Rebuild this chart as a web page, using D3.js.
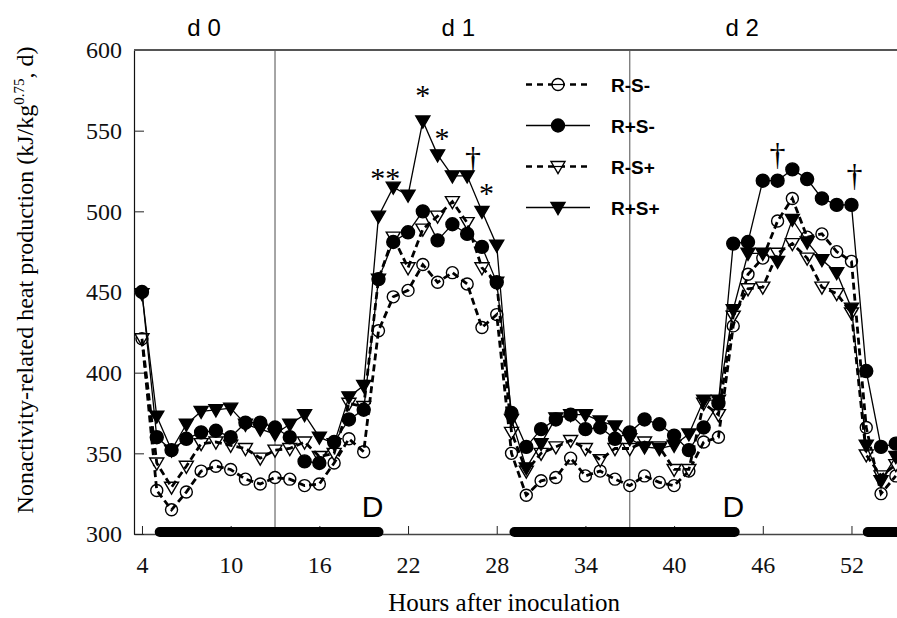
<!DOCTYPE html>
<html>
<head>
<meta charset="utf-8">
<script src="https://cdn.jsdelivr.net/npm/d3@7"></script>
<style>
  body { margin: 0; background: #fff; }
  svg { display: block; }
</style>
</head>
<body>
<svg id="chart" width="897" height="618"></svg>
<script>
// Heures après inoculation
const hours = [4, 5, 6, 7, 8, 9, 10, 11, 12, 13, 14, 15, 16, 17, 18, 19, 20, 21, 22, 23,
  24, 25, 26, 27, 28, 29, 30, 31, 32, 33, 34, 35, 36, 37, 38, 39, 40, 41, 42, 43,
  44, 45, 46, 47, 48, 49, 50, 51, 52, 53, 54, 55];

// Valeurs (kJ/kg^0.75, d)
const rMinusSMinus = [421, 327, 315, 326, 339, 342, 340, 334, 331, 335, 334, 330, 331, 344, 359, 351, 426, 447, 451, 467,
  456, 462, 455, 428, 436, 350, 324, 333, 335, 347, 336, 339, 334, 330, 336, 332, 330, 339, 357, 360,
  429, 461, 471, 494, 508, 484, 486, 475, 469, 366, 325, 336];
const rPlusSMinus = [450, 360, 352, 359, 363, 364, 360, 369, 369, 366, 360, 345, 344, 357, 371, 377, 458, 481, 487, 500,
  482, 492, 486, 478, 456, 375, 354, 365, 371, 374, 365, 366, 359, 363, 371, 368, 361, 352, 366, 381,
  480, 481, 519, 519, 526, 520, 508, 504, 504, 401, 354, 356];
const rMinusSPlus = [421, 344, 329, 342, 356, 357, 355, 353, 347, 352, 353, 357, 348, 350, 381, 379, 458, 484, 465, 489,
  497, 506, 493, 465, 456, 363, 339, 350, 354, 358, 353, 346, 353, 353, 357, 354, 340, 340, 381, 374,
  435, 452, 453, 474, 480, 471, 453, 449, 437, 349, 336, 343];
const rPlusSPlus = [449, 373, 352, 368, 376, 377, 378, 368, 365, 362, 368, 374, 360, 356, 385, 392, 497, 515, 510, 556,
  535, 522, 522, 500, 479, 371, 341, 356, 372, 374, 374, 370, 367, 359, 354, 353, 355, 362, 383, 383,
  439, 474, 474, 469, 495, 481, 470, 462, 440, 355, 333, 348];

const seriesNames = ['R-S-', 'R+S-', 'R-S+', 'R+S+'];
const xTicks = [4, 10, 16, 22, 28, 34, 40, 46, 52];
const yTicks = [300, 350, 400, 450, 500, 550, 600];

// Limites des jours et périodes sombres (D)
const dayBounds = [13, 37];
const dayLabels = ['d 0', 'd 1', 'd 2'];
const dayLabelHours = [8.2, 25.4, 44.6];
const darkPeriods = [[5.2, 20], [29.2, 44.1], [53.1, 57]];
const darkLabelHours = [19.6, 44.0];

// Annotations de signification
const marks = [
  { hour: 23, value: 575, text: '*' },
  { hour: 24.3, value: 548.5, text: '*' },
  { hour: 20.45, value: 524, text: '**' },
  { hour: 27.3, value: 514.5, text: '*' },
  { hour: 26.4, value: 531, text: '\u2020' },
  { hour: 47, value: 533.5, text: '\u2020' },
  { hour: 52.2, value: 520.5, text: '\u2020' }
];

const svg = d3.select('#chart');
const serif = 'Liberation Serif, Times New Roman, serif';
const sans = 'Liberation Sans, Arial, sans-serif';

const plot = { left: 134, right: 897, top: 50, bottom: 534 };

const x = d3.scaleLinear().domain([3.46, 55.08]).range([plot.left, plot.right]);
const y = d3.scaleLinear().domain([300, 600]).range([plot.bottom, plot.top]);

svg.append('defs').append('clipPath').attr('id', 'clip')
  .append('rect')
  .attr('x', plot.left).attr('y', 0)
  .attr('width', plot.right - plot.left).attr('height', 618);

// Lignes verticales séparant les jours
svg.selectAll('.day-line')
  .data(dayBounds)
  .enter()
  .append('line')
  .attr('x1', d => x(d)).attr('x2', d => x(d))
  .attr('y1', y(600)).attr('y2', y(300))
  .attr('stroke', '#6a6a6a')
  .attr('stroke-width', 1.2);

// Axe X
const xAxis = svg.append('g')
  .attr('transform', `translate(0,${plot.bottom})`)
  .call(d3.axisBottom(x).tickValues(xTicks).tickSizeInner(-8).tickSizeOuter(0).tickPadding(22));
xAxis.select('.domain').attr('stroke', '#444').attr('stroke-width', 1.4);
xAxis.selectAll('.tick line').attr('stroke', '#222');
xAxis.selectAll('text').style('font-family', serif).style('font-size', '24px').attr('fill', '#111');

// Axe Y
const yAxis = svg.append('g')
  .attr('transform', `translate(${plot.left},0)`)
  .call(d3.axisLeft(y).tickValues(yTicks).tickSizeInner(-10).tickSizeOuter(0).tickPadding(12));
yAxis.select('.domain').attr('stroke', '#111').attr('stroke-width', 1.2);
yAxis.selectAll('.tick line').attr('stroke', '#222');
yAxis.selectAll('text').style('font-family', serif).style('font-size', '24px').attr('fill', '#111');

// Bordure supérieure
svg.append('line')
  .attr('x1', plot.left).attr('x2', plot.right)
  .attr('y1', y(600)).attr('y2', y(600))
  .attr('stroke', '#555')
  .attr('stroke-width', 2.2);

// Barres des périodes sombres
svg.append('g').attr('clip-path', 'url(#clip)')
  .selectAll('line')
  .data(darkPeriods)
  .enter()
  .append('line')
  .attr('x1', d => x(d[0])).attr('x2', d => x(d[1]))
  .attr('y1', y(300) - 2).attr('y2', y(300) - 2)
  .attr('stroke', '#000')
  .attr('stroke-width', 10)
  .attr('stroke-linecap', 'round');

svg.selectAll('.dark-label')
  .data(darkLabelHours)
  .enter()
  .append('text')
  .attr('x', d => x(d))
  .attr('y', y(300) - 17)
  .attr('text-anchor', 'middle')
  .style('font-family', sans)
  .style('font-size', '30px')
  .text('D');

// Étiquettes des jours
svg.selectAll('.day-label')
  .data(dayLabels)
  .enter()
  .append('text')
  .attr('x', (d, i) => x(dayLabelHours[i]))
  .attr('y', 36)
  .attr('text-anchor', 'middle')
  .style('font-family', sans)
  .style('font-size', '24px')
  .text(d => d);

// Séries
const series = [
  { name: seriesNames[0], values: rMinusSMinus, shape: 'circle', filled: false, dashed: true },
  { name: seriesNames[2], values: rMinusSPlus, shape: 'triangle', filled: false, dashed: true },
  { name: seriesNames[1], values: rPlusSMinus, shape: 'circle', filled: true, dashed: false },
  { name: seriesNames[3], values: rPlusSPlus, shape: 'triangle', filled: true, dashed: false }
];

const triangle = 'M-7,-5 L7,-5 L0,7 Z';

function drawMarker(g, s) {
  if (s.shape === 'circle') {
    g.append('circle')
      .attr('r', s.filled ? 6.5 : 6)
      .attr('fill', s.filled ? '#000' : '#fff')
      .attr('stroke', '#000')
      .attr('stroke-width', 1.4);
  } else {
    g.append('path')
      .attr('d', triangle)
      .attr('fill', s.filled ? '#000' : '#fff')
      .attr('stroke', '#000')
      .attr('stroke-width', 1.4)
      .attr('stroke-linejoin', 'miter');
  }
}

const line = d3.line()
  .x((d, i) => x(hours[i]))
  .y(d => y(d));

const plotArea = svg.append('g').attr('clip-path', 'url(#clip)');

series.forEach(s => {
  const g = plotArea.append('g');
  const markers = g.selectAll('g.pt')
    .data(s.values)
    .enter()
    .append('g')
    .attr('class', 'pt')
    .attr('transform', (d, i) => `translate(${x(hours[i])},${y(d)})`);
  markers.each(function() { drawMarker(d3.select(this), s); });
  g.append('path')
    .datum(s.values)
    .attr('d', line)
    .attr('fill', 'none')
    .attr('stroke', '#000')
    .attr('stroke-width', s.dashed ? 2.8 : 1.3)
    .attr('stroke-dasharray', s.dashed ? '7,4' : null);
  if (!s.dashed) g.select('path').lower();
});

// Annotations
svg.selectAll('.mark')
  .data(marks)
  .enter()
  .append('text')
  .attr('x', d => x(d.hour))
  .attr('y', d => y(d.value) + (d.text === '\u2020' ? 8 : 15))
  .attr('text-anchor', 'middle')
  .style('font-family', serif)
  .style('font-size', d => d.text === '\u2020' ? '32px' : '30px')
  .text(d => d.text);

// Légende
const legendOrder = [series[0], series[2], series[1], series[3]];
const legend = svg.append('g');
legendOrder.forEach((s, i) => {
  const row = legend.append('g').attr('transform', `translate(0,${84.5 + i * 41})`);
  row.append('line')
    .attr('x1', 526).attr('x2', 590)
    .attr('stroke', '#000')
    .attr('stroke-width', s.dashed ? 2.4 : 1.3)
    .attr('stroke-dasharray', s.dashed ? '6,5' : null);
  const m = row.append('g').attr('transform', 'translate(558,0)');
  drawMarker(m, s);
  if (s.dashed) {
    m.append('line').attr('x1', -7).attr('x2', 7).attr('stroke', '#000').attr('stroke-width', 1.2);
  }
  row.append('text')
    .attr('x', 611)
    .attr('y', 7)
    .style('font-family', sans)
    .style('font-size', '19px')
    .style('font-weight', 'bold')
    .text(s.name);
});

// Titres des axes
svg.append('text')
  .attr('x', x(28.5))
  .attr('y', 611)
  .attr('text-anchor', 'middle')
  .style('font-family', serif)
  .style('font-size', '25px')
  .text('Hours after inoculation');

const yTitle = svg.append('text')
  .attr('transform', 'translate(33,280) rotate(-90)')
  .attr('text-anchor', 'middle')
  .style('font-family', serif)
  .style('font-size', '24px');
yTitle.append('tspan').text('Nonactivity-related heat production (kJ/kg');
yTitle.append('tspan').attr('dy', -9).style('font-size', '15px').text('0.75');
yTitle.append('tspan').attr('dy', 9).text(', d)');
</script>
</body>
</html>
